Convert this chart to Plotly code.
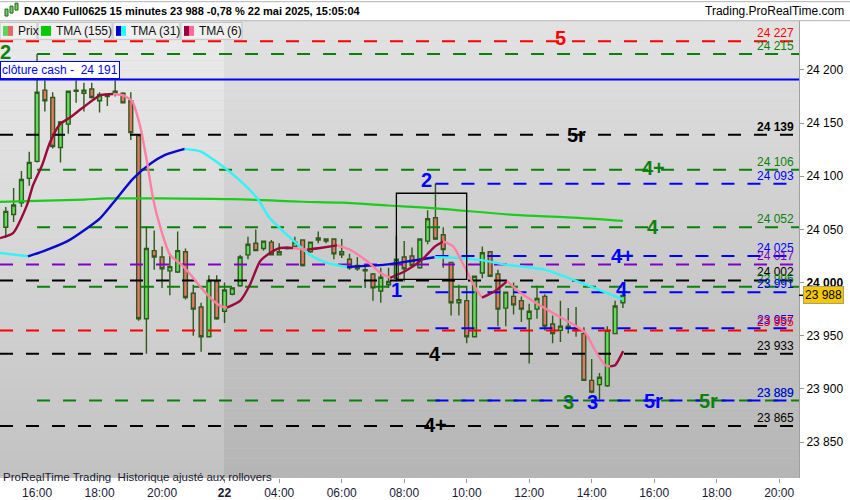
import plotly.graph_objects as go

# 15 minute bars: index 0 = 21 May 15:00, index 28 = 22 May 02:15, index 79 = 22 May 15:00
opens = [24052, 24064, 24075, 24098, 24114, 24181, 24174, 24127, 24149, 24180,
         24178, 24182, 24171, 24175, 24177, 24178, 24171, 24138, 23966, 24030,
         24024, 24011, 24010, 24029, 23990, 23977, 23949, 24001, 23973, 23989,
         23997, 24026, 24037, 24032, 24038, 24026, 24032, 24034, 24040, 24029,
         24040, 24041, 24041, 24029, 24022, 24016, 24011, 24008, 23992, 23998,
         24004, 24024, 24025, 24014, 24039, 24061, 24045, 24019, 23981, 23983,
         23949, 24009, 24029, 24008, 23976, 23987, 23983, 23966, 23975, 23987,
         23961, 23955, 23958, 23956, 23952, 23908, 23904, 23903, 23952, 23981]
highs = [24071, 24089, 24105, 24123, 24215, 24190, 24179, 24152, 24180, 24190,
         24188, 24188, 24179, 24177, 24190, 24179, 24179, 24139, 24053, 24049,
         24034, 24027, 24048, 24032, 23998, 23981, 24007, 24007, 24000, 23995,
         24026, 24043, 24050, 24039, 24040, 24037, 24034, 24043, 24040, 24038,
         24048, 24041, 24041, 24041, 24027, 24024, 24015, 24009, 24014, 24014,
         24044, 24039, 24033, 24041, 24068, 24093, 24052, 24019, 23998, 23997,
         24006, 24034, 24029, 24012, 23991, 24000, 23987, 23980, 23997, 23989,
         23969, 23983, 23976, 23977, 23958, 23928, 23915, 23959, 23983, 23991]
lows = [24042, 24057, 24071, 24091, 24113, 24161, 24126, 24113, 24140, 24169,
        24161, 24173, 24160, 24166, 24175, 24169, 24134, 23964, 23933, 24012,
        23995, 23988, 24009, 23984, 23950, 23935, 23949, 23965, 23962, 23988,
        23996, 24022, 24030, 24030, 24026, 24026, 24031, 24032, 24015, 24028,
        24037, 24037, 24022, 24023, 24012, 24011, 23995, 23983, 23981, 23995,
        24001, 24001, 24014, 24013, 24036, 24040, 24014, 23969, 23969, 23943,
        23949, 24004, 24006, 23959, 23959, 23970, 23963, 23924, 23966, 23955,
        23943, 23944, 23952, 23949, 23908, 23896, 23890, 23902, 23952, 23976]
closes = [24067, 24073, 24097, 24113, 24179, 24171, 24128, 24151, 24180, 24181,
          24181, 24174, 24177, 24176, 24180, 24169, 24141, 23966, 24032, 24024,
          24013, 24015, 24030, 23986, 23975, 23949, 24002, 23966, 23993, 23995,
          24024, 24036, 24030, 24039, 24026, 24029, 24033, 24038, 24016, 24038,
          24042, 24039, 24027, 24026, 24014, 24013, 24012, 23995, 24005, 24001,
          24022, 24013, 24016, 24041, 24060, 24041, 24031, 23981, 23984, 23949,
          24006, 24028, 24006, 23975, 23991, 23979, 23975, 23973, 23985, 23959,
          23952, 23959, 23959, 23957, 23908, 23897, 23911, 23955, 23978, 23988]
bars = list(range(len(closes)))

tick_bars = [4, 12, 20, 28, 35, 43, 51, 59, 67, 75, 83, 91, 99]
tick_text = ["16:00", "18:00", "20:00", "<b>22</b>", "04:00", "06:00", "08:00",
             "10:00", "12:00", "14:00", "16:00", "18:00", "20:00"]
price_ticks = [23850, 23900, 23950, 24000, 24050, 24100, 24150, 24200]
last_price = 23988

# moving averages (bar position, value)
tma155_x = [-0.74, 10, 13, 20, 29, 35, 38, 43, 49, 55, 65, 72, 79]
tma155_y = [24075.8, 24078.1, 24079.1, 24079.1, 24078.4, 24076.9, 24076.0, 24075.1,
            24072.5, 24069.8, 24063.7, 24061.4, 24058.1]
tma31_x = [-0.74, 2.84, 4.76, 7.84, 10.4, 12.06, 14.2, 16.3, 18.5, 20.4, 22.9, 24.9,
           26.8, 29.7, 32.2, 33.8, 36.0, 38.9, 41.1, 43.7, 46.0, 48.6, 51.8, 54.9,
           57.1, 60.7, 63.9, 69.0, 72.5, 75.8, 79.0]
tma31_y = [24027.8, 24024.7, 24029.4, 24038.7, 24051.1, 24060.4, 24079.1, 24097.7,
           24111.7, 24120.1, 24125.7, 24123.4, 24114.5, 24097.7, 24079.1, 24060.4,
           24044.9, 24026.2, 24018.5, 24014.7, 24015.7, 24016.9, 24020.3, 24023.8,
           24023.5, 24021.3, 24016.9, 24012.2, 24002.9, 23993.6, 23984.3]
tma6_x = [-0.74, 0.92, 2.71, 3.48, 4.63, 5.66, 6.94, 8.22, 9.88, 12.06, 13.73, 15.01,
          16.16, 17.18, 18.08, 18.85, 19.74, 21.02, 22.69, 23.97, 25.76, 27.43, 28.32,
          29.99, 31.27, 32.55, 33.83, 35.11, 36.77, 38.57, 40.23, 42.41, 44.07, 46.25,
          47.92, 49.2, 51.1, 53.29, 54.95, 55.98, 57.26, 58.8, 60.08, 60.97, 62.64,
          64.18, 65.58, 68.14, 70.32, 72.88, 74.16, 75.44, 76.72, 77.36, 78.0, 79.03]
tma6_y = [24041.8, 24046.4, 24072.8, 24091.5, 24110.1, 24131.9, 24149.0, 24155.2,
          24164.6, 24176.0, 24177.3, 24176.0, 24170.7, 24147.4, 24113.3, 24079.1,
          24053.0, 24026.2, 24015.4, 24004.5, 23988.9, 23978.1, 23976.5, 23982.8,
          23998.2, 24020.1, 24027.8, 24032.5, 24032.5, 24030.9, 24032.5, 24035.0,
          24030.9, 24020.0, 24009.2, 24004.5, 24010.7, 24021.6, 24034.0, 24038.7,
          24034.0, 24013.8, 23995.2, 23985.8, 23992.1, 24001.4, 23992.1, 23979.6,
          23970.3, 23959.5, 23953.2, 23936.2, 23922.2, 23921.2, 23922.2, 23935.5]

# horizontal levels drawn on the chart (None = from left edge)
level_values = [24227, 24215, 24191, 24139, 24106, 24093, 24052, 24025, 24017,
                24002, 23996, 23991, 23957, 23955, 23933, 23889, 23889, 23865]
level_colors = ["red", "green", "blue", "black", "green", "blue", "green", "blue", "purple",
                "black", "green", "blue", "blue", "red", "black", "green", "blue", "black"]
level_start = [None, 4, None, None, 4, 55, 4, 55, None,
               None, 4, 55, 55, None, None, 4, 55, None]

# tags written next to the levels
tag_text = ["5", "2", "5r", "4+", "2", "4", "4+", "1", "4", "4", "3", "3", "5r", "5r", "4+"]
tag_bar = [71.0, -0.1, 73.0, 82.9, 53.9, 82.9, 78.9, 50.0, 78.9, 55.0, 72.0, 75.1, 82.9, 89.9, 55.0]
tag_price = [24230, 24217, 24139, 24108, 24096, 24052, 24025, 23993, 23994,
             23933, 23888, 23888, 23889, 23889, 23866]
tag_color = ["red", "green", "black", "green", "blue", "green", "blue", "blue", "blue",
             "black", "green", "blue", "blue", "green", "black"]

box_bars = [50, 59]
box_prices = [24003, 24084]

palette = {"red": "#ff0000", "green": "#0a820a", "blue": "#0000ff",
           "black": "#000000", "purple": "#8000c8"}
FONT = "Liberation Sans, Arial, sans-serif"
x_range = [-0.743, 101.54]
y_range = [23816.2, 24246.0]


def fmt(v):
    return f"{v:,}".replace(",", " ")


def pxx(px):
    return px / 799


def pxy(py):
    return (482 - py) / 461


def slope_runs(xs, ys):
    runs = []
    cur = [0]
    sign = None
    for k in range(1, len(xs)):
        d = ys[k] - ys[k - 1]
        s = sign if d == 0 else d > 0
        if sign is None:
            sign = s
        if s != sign:
            runs.append((sign, cur))
            cur = [k - 1]
            sign = s
        cur.append(k)
    runs.append((sign, cur))
    return runs


fig = go.Figure()

# levels
for v, c, s in zip(level_values, level_colors, level_start):
    x0 = x_range[0] if s is None else s
    fig.add_trace(go.Scatter(
        x=[x0, x_range[1]], y=[v, v], mode="lines",
        line=dict(color=palette[c], width=2, dash="solid" if v == 24191 else "13px,13px"),
        hoverinfo="skip", showlegend=False))

fig.add_trace(go.Candlestick(
    x=bars, open=opens, high=highs, low=lows, close=closes,
    increasing=dict(line=dict(color="#2e5a1c", width=1.4), fillcolor="#62dc5c"),
    decreasing=dict(line=dict(color="#2e5a1c", width=1.4), fillcolor="#e8736a"),
    whiskerwidth=0, showlegend=False, hoverinfo="skip"))

fig.add_trace(go.Scatter(x=tma155_x, y=tma155_y, mode="lines",
                         line=dict(color="#1ccc1c", width=2.2, shape="spline"),
                         hoverinfo="skip", showlegend=False))

for xs, ys, up_c, down_c in [(tma31_x, tma31_y, "#0a0acc", "#33f2f8"),
                             (tma6_x, tma6_y, "#9a0a3c", "#ff7fa2")]:
    for up, idx in slope_runs(xs, ys):
        fig.add_trace(go.Scatter(
            x=[xs[k] for k in idx], y=[ys[k] for k in idx], mode="lines",
            line=dict(color=up_c if up else down_c, width=2.4, shape="spline", smoothing=0.6),
            hoverinfo="skip", showlegend=False))

shapes = []
# background gradient, previous session lighter
n = 46
for k in range(n):
    t = (k + 0.5) / n
    cr = int(181 + (227 - 181) * t)
    cl = int(194 + (236 - 194) * t)
    shapes.append(dict(type="rect", xref="paper", yref="paper", x0=0, x1=pxx(224),
                       y0=k / n, y1=(k + 1) / n, fillcolor=f"rgb({cl},{cl},{cl})",
                       line=dict(width=0), layer="below"))
    shapes.append(dict(type="rect", xref="paper", yref="paper", x0=pxx(224), x1=1,
                       y0=k / n, y1=(k + 1) / n, fillcolor=f"rgb({cr},{cr},{cr})",
                       line=dict(width=0), layer="below"))

shapes.append(dict(type="rect", xref="x", yref="y", x0=box_bars[0], x1=box_bars[1],
                   y0=box_prices[0], y1=box_prices[1], line=dict(color="black", width=1.3)))

# title bar borders
for py in [1.5, 20.7]:
    shapes.append(dict(type="line", xref="paper", yref="paper", x0=0, x1=pxx(850),
                       y0=pxy(py), y1=pxy(py), line=dict(color="#b4b4b4", width=1)))

# small title icon
for x0, y0, y1 in [(5, 9, 16), (10, 6, 13), (15, 3, 10)]:
    shapes.append(dict(type="rect", xref="paper", yref="paper", x0=pxx(x0), x1=pxx(x0 + 3),
                       y0=pxy(y1), y1=pxy(y0), fillcolor="#62dc5c",
                       line=dict(color="#2e5a1c", width=1)))

annotations = []
# legend row
legend_items = [("Prix", 0, 37, "#5dd55d", "#e46a62"),
                ("TMA (155)", 38, 112, "#00cc00", "#00cc00"),
                ("TMA (31)", 113, 180, "#0000cc", "#22ffff"),
                ("TMA (6)", 181, 242, "#99003d", "#ff6a9a")]
for label, bx0, bx1, c1, c2 in legend_items:
    shapes.append(dict(type="rect", xref="paper", yref="paper", x0=pxx(bx0), x1=pxx(bx1),
                       y0=pxy(39.5), y1=pxy(22.5), fillcolor="#f0f0f0",
                       line=dict(color="#c4c4c4", width=1)))
    shapes.append(dict(type="rect", xref="paper", yref="paper", x0=pxx(bx0 + 3), x1=pxx(bx0 + 8),
                       y0=pxy(36), y1=pxy(26), fillcolor=c1, line=dict(width=0)))
    shapes.append(dict(type="rect", xref="paper", yref="paper", x0=pxx(bx0 + 8), x1=pxx(bx0 + 13),
                       y0=pxy(36), y1=pxy(26), fillcolor=c2, line=dict(width=0)))
    annotations.append(dict(text=label, xref="paper", yref="paper", x=pxx(bx0 + 16), y=pxy(31),
                            xanchor="left", yanchor="middle", showarrow=False,
                            font=dict(family=FONT, size=12, color="#111111")))

# last price marker
shapes.append(dict(type="line", xref="paper", yref="y", x0=1, x1=pxx(804),
                   y0=last_price, y1=last_price, line=dict(color="black", width=1.5)))

annotations.append(dict(text="<b>DAX40 Full0625 15 minutes 23 988 -0,78 % 22 mai 2025, 15:05:04</b>",
                        xref="paper", yref="paper", x=pxx(22), y=pxy(11), xanchor="left",
                        yanchor="middle", showarrow=False,
                        font=dict(family=FONT, size=11, color="#000000")))
annotations.append(dict(text="Trading.ProRealTime.com", xref="paper", yref="paper",
                        x=pxx(846), y=pxy(11), xanchor="right", yanchor="middle",
                        showarrow=False, font=dict(family=FONT, size=12, color="#000000")))
annotations.append(dict(text="ProRealTime Trading  Historique ajusté aux rollovers",
                        xref="paper", yref="paper", x=pxx(1), y=pxy(481), xanchor="left",
                        yanchor="middle", showarrow=False,
                        font=dict(family=FONT, size=11.5, color="#1a1a33")))
annotations.append(dict(text="clôture cash -  24 191", xref="paper", yref="y", x=0, y=24191,
                        xanchor="left", yanchor="bottom", showarrow=False, bgcolor="white",
                        bordercolor="#0000ff", borderwidth=1, borderpad=1,
                        font=dict(family=FONT, size=12, color="#0000ff")))
annotations.append(dict(text=fmt(last_price), xref="paper", yref="y", x=pxx(803), y=last_price,
                        xanchor="left", yanchor="middle", showarrow=False, bgcolor="#f7c800",
                        bordercolor="#a8a070", borderwidth=1, borderpad=1,
                        font=dict(family=FONT, size=12, color="#000000")))

# value tags at right edge
for v, c in zip(level_values, level_colors):
    if v == 24191:
        continue
    txt = fmt(v)
    if v == 24139:
        txt = f"<b>{txt}</b>"
    annotations.append(dict(text=txt, xref="paper", yref="y", x=pxx(796), y=v,
                            xanchor="right", yanchor="bottom", showarrow=False, yshift=-1,
                            font=dict(family=FONT, size=12, color=palette[c])))

for t, b, p, c in zip(tag_text, tag_bar, tag_price, tag_color):
    annotations.append(dict(text=f"<b>{t}</b>", xref="x", yref="y", x=b, y=p,
                            xanchor="center", yanchor="middle", showarrow=False,
                            font=dict(family=FONT, size=20, color=palette[c])))

fig.update_layout(
    width=850, height=500,
    margin=dict(l=0, r=51, t=21, b=18, pad=0),
    paper_bgcolor="white", plot_bgcolor="#cccccc",
    separators=", ",
    hovermode=False,
    shapes=shapes, annotations=annotations,
    xaxis=dict(range=x_range, showgrid=False, zeroline=False, rangeslider=dict(visible=False),
               tickmode="array", tickvals=tick_bars, ticktext=tick_text,
               ticks="outside", ticklen=4, tickcolor="#999999",
               tickfont=dict(family=FONT, size=12, color="#1a1a3a")),
    yaxis=dict(range=y_range, side="right", showgrid=False, zeroline=False,
               tickmode="array", tickvals=price_ticks,
               ticktext=[f"<b>{fmt(v)}</b>" if v % 1000 == 0 else fmt(v) for v in price_ticks],
               ticks="outside", ticklen=4, tickcolor="#999999",
               showline=True, linecolor="#a0a0a0", linewidth=1,
               tickfont=dict(family=FONT, size=12, color="#000000")),
)

# the page is shown in a window of exactly the figure size, so drop the body margin
fig.write_html("out.html", config={"displayModeBar": False},
               post_script="document.body.style.margin = '0';")
